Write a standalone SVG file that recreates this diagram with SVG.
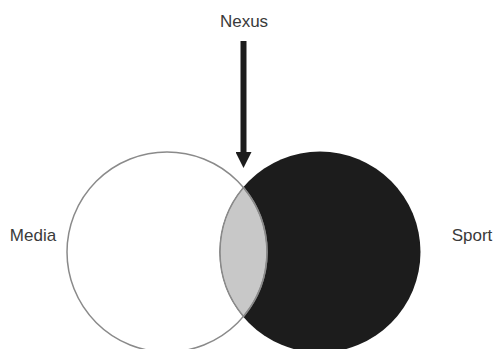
<svg xmlns="http://www.w3.org/2000/svg" width="496" height="349" viewBox="0 0 496 349">
<style>
.lbl{font-family:"Liberation Sans",Arial,sans-serif;font-size:17px;fill:#3a3a3a}
.outline{stroke:#8a8a8a;stroke-width:1.5}
</style>
<defs>
<marker id="ah" markerWidth="16" markerHeight="16" refX="0" refY="8" orient="auto" markerUnits="userSpaceOnUse" viewBox="0 0 16 16">
<path d="M0,0 L16,8 L0,16 Z" fill="#1c1c1c"/>
</marker>
</defs>
<rect width="496" height="349" fill="#fff"/>
<g id="sport">
<circle cx="320" cy="252" r="100.5" fill="#1c1c1c"/>
<text class="lbl" x="472" y="241" text-anchor="middle">Sport</text>
</g>
<g id="nexus">
<path d="M243.5 187.6 A100 100 0 0 0 243.5 316.4 A100 100 0 0 0 243.5 187.6 Z" fill="#c8c8c8" class="outline"/>
<text class="lbl" x="244" y="27" text-anchor="middle">Nexus</text>
</g>
<g id="media">
<circle cx="167" cy="252" r="100" fill="none" class="outline"/>
<text class="lbl" x="33" y="241" text-anchor="middle">Media</text>
</g>
<g id="connectors">
<line x1="243.5" y1="41" x2="243.5" y2="152" stroke="#1c1c1c" stroke-width="6" marker-end="url(#ah)"/>
</g>
</svg>
